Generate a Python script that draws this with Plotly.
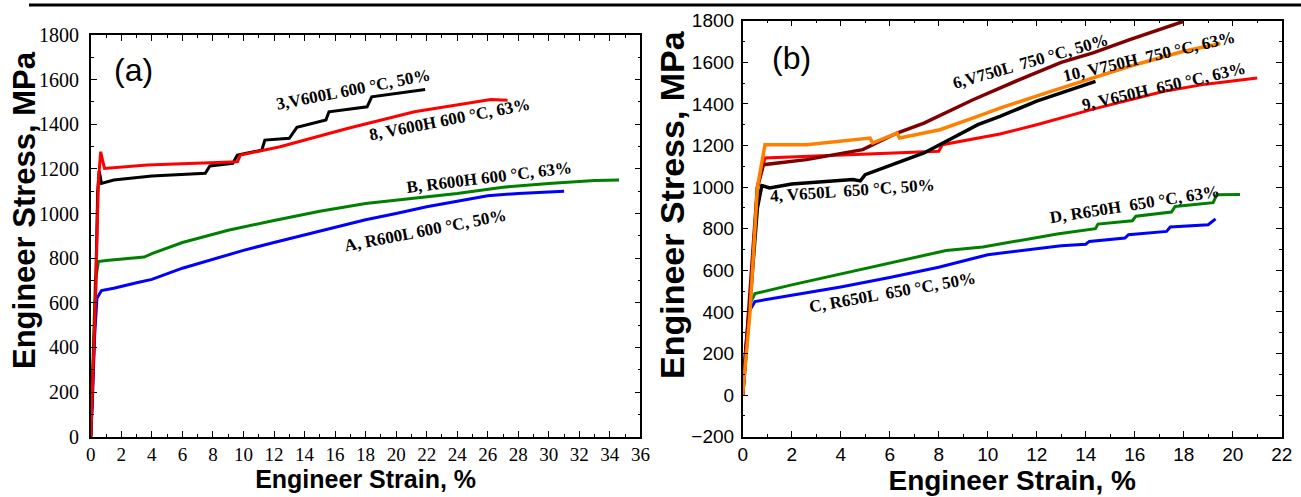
import plotly.graph_objects as go

# ---------------- Panel (a) data ----------------
a_black_x = [0, 0.3, 0.45, 0.55, 0.7, 1.5, 4, 7.5, 7.8, 9.3, 9.6, 10.1, 11.2, 11.4, 13.0, 13.5, 15.4, 15.6, 18.1, 18.4, 20.3, 21.9]
a_black_y = [0, 600, 1100, 1190, 1135, 1150, 1168, 1180, 1213, 1225, 1262, 1268, 1284, 1329, 1337, 1386, 1419, 1456, 1478, 1523, 1540, 1556]

a_red_x = [0, 0.3, 0.5, 0.65, 0.8, 0.9, 3.7, 9.6, 9.8, 12.4, 16.8, 21.2, 26.2, 27.3]
a_red_y = [0, 600, 1150, 1277, 1230, 1202, 1217, 1232, 1262, 1299, 1381, 1456, 1511, 1508]

a_green_x = [0, 0.15, 0.3, 0.5, 1, 3.5, 4, 6, 9, 12, 15, 18, 22, 24, 27, 30, 33, 34.6]
a_green_y = [0, 400, 700, 785, 790, 805, 820, 870, 925, 969, 1010, 1045, 1074, 1090, 1118, 1135, 1148, 1150]

a_blue_x = [0, 0.1, 0.25, 0.4, 0.7, 1.5, 3, 4, 6, 8, 10, 12, 14, 16, 18, 20, 22, 24, 26, 28, 30, 31]
a_blue_y = [0, 150, 450, 620, 655, 665, 690, 705, 755, 795, 835, 870, 905, 940, 972, 1000, 1030, 1055, 1080, 1090, 1095, 1100]

# ---------------- Panel (b) data ----------------
b_darkred_x = [0, 0.3, 0.6, 0.85, 2.6, 4.9, 6.3, 7.4, 9.4, 11.3, 13.0, 14.3, 15.8, 18.0]
b_darkred_y = [0, 500, 1000, 1108, 1132, 1180, 1260, 1308, 1420, 1517, 1600, 1645, 1709, 1797]

b_orange_x = [0, 0.3, 0.6, 0.91, 2.6, 5.2, 5.3, 6.3, 6.4, 8.05, 9.7, 10.5, 12.8, 15.8, 18.0, 19.5]
b_orange_y = [0, 400, 1000, 1204, 1204, 1236, 1212, 1260, 1236, 1276, 1345, 1380, 1469, 1581, 1653, 1690]

b_red_x = [0, 0.3, 0.6, 0.91, 8.0, 8.15, 10.5, 12.0, 14.3, 17.2, 18.9, 21.0]
b_red_y = [0, 450, 1000, 1140, 1172, 1204, 1255, 1300, 1375, 1461, 1495, 1525]

b_black_x = [0, 0.3, 0.6, 0.78, 1.1, 2.0, 4.5, 4.8, 5.0, 7.4, 9.6, 10.5, 12.0, 14.4]
b_black_y = [0, 450, 900, 1007, 996, 1015, 1036, 1030, 1060, 1164, 1300, 1340, 1413, 1508]

b_green_x = [0, 0.15, 0.3, 0.5, 2, 4, 6, 8.3, 9.8, 11.3, 12.9, 14.4, 14.5, 15.9, 16.05, 17.5, 17.65, 19.2, 19.35, 20.3]
b_green_y = [0, 250, 440, 488, 530, 582, 635, 695, 712, 744, 776, 800, 822, 838, 860, 880, 907, 925, 963, 965]

b_blue_x = [0, 0.1, 0.25, 0.5, 2, 4, 6, 8, 10, 12, 13, 14.0, 14.15, 15.6, 15.75, 17.3, 17.45, 19.0, 19.3]
b_blue_y = [0, 200, 400, 450, 480, 520, 565, 615, 675, 705, 718, 725, 739, 755, 771, 787, 808, 819, 847]

# ---------------- Labels ----------------
a_label_text = ["3,V600L 600 °C, 50%", "8, V600H 600 °C, 63%", "B, R600H 600 °C, 63%", "A, R600L 600 °C, 50%"]
a_label_x = [17.2, 23.5, 26.1, 21.9]
a_label_y = [1555, 1422, 1160, 925]
a_label_ang = [-11, -11, -7, -11]

b_label_text = ["6,V750L  750 °C, 50%", "10, V750H  750 °C, 63%", "9, V650H  650 °C, 63%",
                "4, V650L  650 °C, 50%", "D, R650H  650 °C, 63%", "C, R650L  650 °C, 50%"]
b_label_x = [11.75, 16.6, 17.2, 4.5, 16.0, 6.1]
b_label_y = [1605, 1630, 1484, 985, 915, 495]
b_label_ang = [-16, -13, -13, -4, -9, -10]

axis_title_x = "Engineer Strain, %"
axis_title_y = "Engineer Stress, MPa"

W, H = 1301, 497
fig = go.Figure()

def add(x, y, color, ax, lw=3):
    fig.add_trace(go.Scatter(x=x, y=y, mode="lines", line=dict(color=color, width=lw),
                             xaxis="x" if ax == 1 else "x2", yaxis="y" if ax == 1 else "y2",
                             showlegend=False, hoverinfo="skip"))

add(a_green_x, a_green_y, "#008000", 1)
add(a_blue_x, a_blue_y, "#0000FF", 1)
add(a_black_x, a_black_y, "#000000", 1)
add(a_red_x, a_red_y, "#FF0000", 1)

add(b_green_x, b_green_y, "#008000", 2)
add(b_blue_x, b_blue_y, "#0000FF", 2)
add(b_red_x, b_red_y, "#FF0000", 2)
add(b_black_x, b_black_y, "#000000", 2, 3.5)
add(b_darkred_x, b_darkred_y, "#800000", 2, 3.5)
add(b_orange_x, b_orange_y, "#FF8000", 2, 3.5)

def px_x(p):
    return p / W
def px_y(p):
    return 1 - p / H

ax_common = dict(showline=True, linecolor="black", linewidth=1.5, mirror="ticks",
                 ticks="inside", ticklen=6, tickwidth=1.2, tickcolor="black",
                 showgrid=False, zeroline=False, automargin=False)

serif = "Liberation Serif, Times New Roman, serif"
sans = "Liberation Sans, Arial, sans-serif"

fig.update_layout(
    width=W, height=H,
    margin=dict(l=0, r=0, t=0, b=0),
    paper_bgcolor="white", plot_bgcolor="white",
    showlegend=False,
    xaxis=dict(domain=[px_x(90.8), px_x(640.4)], range=[0, 36], dtick=2, anchor="y",
               minor=dict(ticks="inside", ticklen=3, dtick=1, tickcolor="black"),
               tickfont=dict(family=serif, size=19, color="black"), ticklabelstandoff=0,
               title=dict(text="<b>" + axis_title_x + "</b>", font=dict(family=sans, size=25, color="black"), standoff=2),
               **ax_common),
    yaxis=dict(domain=[px_y(436.7), px_y(35)], range=[0, 1800], dtick=200, anchor="x",
               minor=dict(ticks="inside", ticklen=3, dtick=100, tickcolor="black"),
               tickfont=dict(family=serif, size=20, color="black"), ticklabelstandoff=6,
               **ax_common),
    xaxis2=dict(domain=[px_x(742.7), px_x(1281.7)], range=[0, 22], dtick=2, anchor="y2",
                minor=dict(ticks="inside", ticklen=3, dtick=1, tickcolor="black"),
                tickfont=dict(family=sans, size=19, color="black"), ticklabelstandoff=0,
                title=dict(text="<b>" + axis_title_x + "</b>", font=dict(family=sans, size=28, color="black"), standoff=2),
                **ax_common),
    yaxis2=dict(domain=[px_y(436.7), px_y(20.7)], range=[-200, 1800], dtick=200, anchor="x2",
                minor=dict(ticks="inside", ticklen=3, dtick=100, tickcolor="black"),
                tickfont=dict(family=sans, size=19, color="black"), ticklabelstandoff=3,
                **ax_common),
)

annotations = []
annotations.append(dict(text="<b>" + axis_title_y + "</b>", x=px_x(24), y=px_y(210), xref="paper", yref="paper",
                        showarrow=False, textangle=-90, font=dict(family=sans, size=31, color="black"),
                        xanchor="center", yanchor="middle"))
annotations.append(dict(text="<b>" + axis_title_y + "</b>", x=px_x(672), y=px_y(205), xref="paper", yref="paper",
                        showarrow=False, textangle=-90, font=dict(family=sans, size=34, color="black"),
                        xanchor="center", yanchor="middle"))
annotations.append(dict(text="(a)", x=2.8, y=1643, xref="x", yref="y", showarrow=False,
                        font=dict(family=sans, size=32, color="black")))
annotations.append(dict(text="(b)", x=2.0, y=1623, xref="x2", yref="y2", showarrow=False,
                        font=dict(family=sans, size=32, color="black")))
for t, x, y, a in zip(a_label_text, a_label_x, a_label_y, a_label_ang):
    annotations.append(dict(text="<b>" + t + "</b>", x=x, y=y, xref="x", yref="y", showarrow=False,
                            textangle=a, font=dict(family=serif, size=17, color="black")))
for t, x, y, a in zip(b_label_text, b_label_x, b_label_y, b_label_ang):
    annotations.append(dict(text="<b>" + t + "</b>", x=x, y=y, xref="x2", yref="y2", showarrow=False,
                            textangle=a, font=dict(family=serif, size=17, color="black")))
fig.update_layout(annotations=annotations)

fig.add_shape(type="line", xref="paper", yref="paper", x0=29 / W, x1=1.0, y0=1 - 5 / H, y1=1 - 5 / H,
              line=dict(color="black", width=3))

fig.write_html("out.html", config={"displayModeBar": False},
               post_script="document.body.style.margin='0px';document.body.style.padding='0px';document.body.style.overflow='hidden';")
